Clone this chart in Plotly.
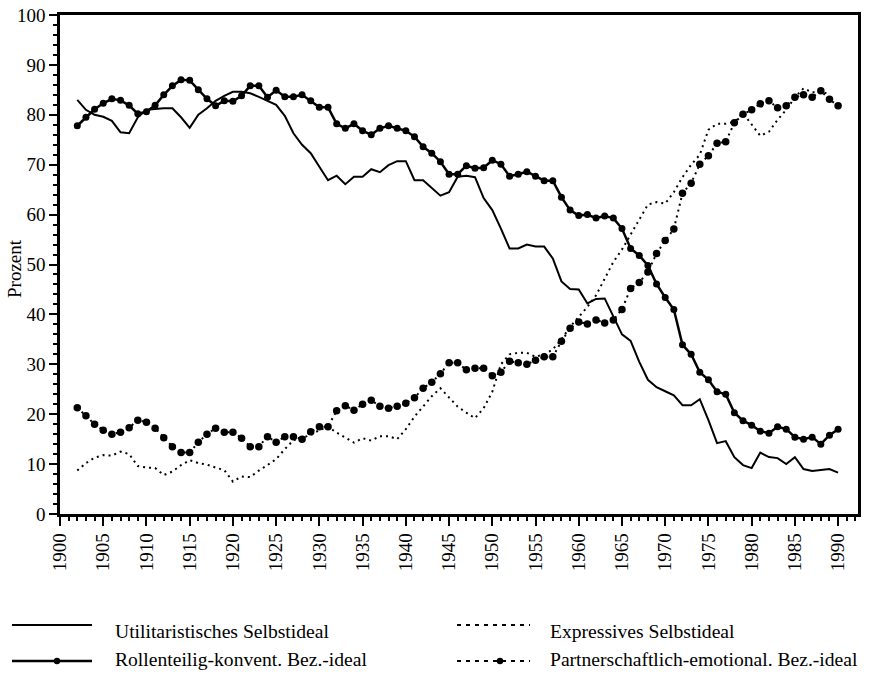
import plotly.graph_objects as go

years = list(range(1902, 1991))

utilitaristisch = [83.0, 81.0, 80.0, 79.6, 78.8, 76.5, 76.3, 79.5, 81.0, 81.2,
                   81.3, 81.3, 79.5, 77.4, 80.0, 81.3, 82.8, 83.8, 84.6, 84.6,
                   84.3, 83.6, 82.8, 82.0, 79.8, 76.3, 74.0, 72.3, 69.6, 66.9,
                   67.8, 66.1, 67.6, 67.6, 69.1, 68.5, 69.9, 70.7, 70.7, 66.9,
                   66.9, 65.3, 63.8, 64.5, 67.6, 67.8, 67.5, 63.3, 60.9, 57.2,
                   53.2, 53.2, 54.0, 53.6, 53.6, 51.2, 46.6, 45.1, 45.0, 42.2,
                   43.1, 43.2, 39.5, 36.0, 34.7, 30.5, 26.9, 25.4, 24.6, 23.8,
                   21.8, 21.8, 23.0, 18.8, 14.2, 14.6, 11.4, 9.8, 9.2, 12.3,
                   11.4, 11.2, 10.0, 11.4, 9.0, 8.6, 8.8, 9.0, 8.3]

rollenteilig = [77.8, 79.5, 81.1, 82.3, 83.2, 82.9, 81.9, 80.2, 80.6, 81.9,
                84.0, 85.8, 87.0, 86.9, 85.0, 83.2, 81.8, 82.8, 82.7, 83.8,
                85.8, 85.8, 83.5, 84.9, 83.6, 83.6, 84.0, 82.8, 81.5, 81.5,
                78.2, 77.3, 78.2, 76.8, 76.0, 77.3, 77.8, 77.3, 76.8, 75.6,
                73.6, 72.3, 70.6, 68.1, 68.1, 69.8, 69.3, 69.4, 70.9, 70.1,
                67.7, 68.1, 68.6, 67.7, 66.8, 66.8, 63.5, 60.9, 59.8, 60.0,
                59.3, 59.7, 59.3, 57.2, 53.2, 51.8, 49.8, 46.1, 43.4, 41.0,
                33.9, 32.0, 28.4, 26.9, 24.5, 24.0, 20.3, 18.7, 17.8, 16.6,
                16.2, 17.5, 17.0, 15.4, 15.0, 15.4, 14.0, 15.8, 17.0]

expressiv = [8.7, 10.2, 11.3, 11.8, 11.7, 12.5, 12.0, 9.6, 9.3, 9.2,
             7.8, 8.5, 9.8, 10.8, 10.2, 9.9, 9.3, 8.8, 6.5, 7.5,
             7.4, 8.7, 9.8, 11.0, 13.0, 14.8, 15.3, 15.8, 16.8, 17.5,
             16.3, 15.3, 14.3, 15.2, 14.7, 15.6, 15.6, 15.0, 17.0, 19.5,
             21.5, 23.6, 25.2, 23.3, 21.5, 20.3, 19.2, 21.2, 24.5, 30.0,
             32.0, 32.3, 32.3, 31.5, 32.0, 33.0, 35.0, 37.5, 39.5, 41.5,
             43.8, 47.0, 50.5, 53.0, 56.0, 59.0, 62.0, 62.5, 62.2, 64.5,
             67.5, 70.0, 72.0, 77.0, 78.2, 78.2, 78.6, 80.3, 78.0, 75.8,
             76.6, 79.0, 81.0, 83.5, 85.3, 84.5, 84.6, 84.2, None]

partnerschaftlich = [21.3, 19.7, 18.0, 16.8, 16.0, 16.4, 17.3, 18.8, 18.4, 17.2,
                     15.3, 13.5, 12.3, 12.3, 14.4, 16.0, 17.2, 16.4, 16.4, 15.2,
                     13.5, 13.5, 15.5, 14.4, 15.5, 15.5, 15.0, 16.5, 17.5, 17.5,
                     20.7, 21.7, 20.8, 22.0, 22.8, 21.6, 21.2, 21.6, 22.2, 23.3,
                     25.2, 26.4, 28.1, 30.3, 30.3, 28.9, 29.2, 29.2, 27.7, 28.4,
                     30.6, 30.3, 30.0, 30.8, 31.5, 31.5, 34.6, 37.2, 38.5, 38.1,
                     38.9, 38.3, 38.9, 41.0, 45.2, 46.4, 48.5, 52.2, 54.8, 57.1,
                     64.3, 66.3, 70.1, 71.8, 74.3, 74.6, 78.4, 80.1, 81.0, 82.2,
                     82.8, 81.4, 81.8, 83.5, 84.0, 83.5, 84.8, 83.1, 81.8]

series_names = ["Utilitaristisches Selbstideal",
                "Rollenteilig-konvent. Bez.-ideal",
                "Expressives Selbstideal",
                "Partnerschaftlich-emotional. Bez.-ideal"]

y_ticks = list(range(0, 101, 10))
x_ticks = list(range(1900, 1991, 5))

FONT = "Liberation Serif"
DOT = "2px,4px"

fig = go.Figure()
fig.add_trace(go.Scatter(x=years, y=utilitaristisch, mode="lines",
                         line=dict(color="black", width=2), name=series_names[0]))
fig.add_trace(go.Scatter(x=years, y=expressiv, mode="lines",
                         line=dict(color="black", width=2, dash=DOT), name=series_names[2]))
fig.add_trace(go.Scatter(x=years, y=rollenteilig, mode="lines+markers",
                         line=dict(color="black", width=2.5),
                         marker=dict(color="black", size=7), name=series_names[1]))
fig.add_trace(go.Scatter(x=years, y=partnerschaftlich, mode="lines+markers",
                         line=dict(color="black", width=2, dash=DOT),
                         marker=dict(color="black", size=7.5), name=series_names[3]))

W, H = 869, 677
# plot box in page pixels
L, R, T, B = 60, 858, 15, 514


def px(x):
    return (x - L) / (R - L)


def py(y):
    return (B - y) / (B - T)


LEG_FONT = 19.6
legend_items = [
    (12, 92, 625, 113, 631, "solid", 2, None, series_names[0]),
    (12, 92, 661, 113, 659, "solid", 2.5, 57, series_names[1]),
    (457, 530, 625, 548, 631, "dot", 1.8, None, series_names[2]),
    (457, 530, 661, 548, 659, "dot", 1.8, 500, series_names[3]),
]
shapes = []
annotations = []
for x0, x1, ly, tx, ty, dash, w, mx, label in legend_items:
    shapes.append(dict(type="line", xref="paper", yref="paper",
                       x0=px(x0), x1=px(x1), y0=py(ly), y1=py(ly),
                       line=dict(color="black", width=w,
                                 dash="solid" if dash == "solid" else "4px,5px")))
    if mx is not None:
        r = 3.2
        shapes.append(dict(type="circle", xref="paper", yref="paper",
                           x0=px(mx - r), x1=px(mx + r), y0=py(ly + r), y1=py(ly - r),
                           fillcolor="black", line=dict(color="black", width=0)))
    annotations.append(dict(text=label, xref="paper", yref="paper",
                            x=px(tx), y=py(ty), xanchor="left", yanchor="middle",
                            showarrow=False, font=dict(family=FONT, size=LEG_FONT, color="black")))

# y-axis title as annotation to keep the plot box fixed
annotations.append(dict(text="Prozent", xref="paper", yref="paper",
                        x=px(14), y=py(269), xanchor="center", yanchor="middle",
                        textangle=-90, showarrow=False,
                        font=dict(family=FONT, size=19, color="black")))

fig.update_layout(
    width=W, height=H,
    margin=dict(l=L, r=W - R, t=T, b=H - B, autoexpand=False),
    paper_bgcolor="white", plot_bgcolor="white",
    showlegend=False,
    shapes=shapes, annotations=annotations,
    font=dict(family=FONT, size=19, color="black"),
)
fig.update_xaxes(range=[1900, 1992.3], tickvals=x_ticks, ticktext=[str(v) for v in x_ticks],
                 tickangle=-90, ticks="outside", ticklen=9, tickwidth=2, tickcolor="black",
                 minor=dict(dtick=1, tick0=1900, ticks="outside", ticklen=4, tickwidth=1.5, tickcolor="black"),
                 showline=True, linewidth=2.5, linecolor="black", mirror=True,
                 showgrid=False, zeroline=False, automargin=False,
                 ticklabeloverflow="allow",
                 tickfont=dict(family=FONT, size=19))
fig.update_yaxes(range=[0, 100], tickvals=y_ticks, ticktext=[str(v) for v in y_ticks],
                 ticks="outside", ticklen=8, tickwidth=2, tickcolor="black",
                 minor=dict(dtick=2, tick0=0, ticks="outside", ticklen=4, tickwidth=1.5, tickcolor="black"),
                 showline=True, linewidth=2.5, linecolor="black", mirror=True,
                 showgrid=False, zeroline=False, automargin=False,
                 ticklabeloverflow="allow",
                 tickfont=dict(family=FONT, size=19))

fig.write_html("out.html",
               config={"displayModeBar": False},
               post_script="document.body.style.margin='0';document.body.style.overflow='hidden';")
